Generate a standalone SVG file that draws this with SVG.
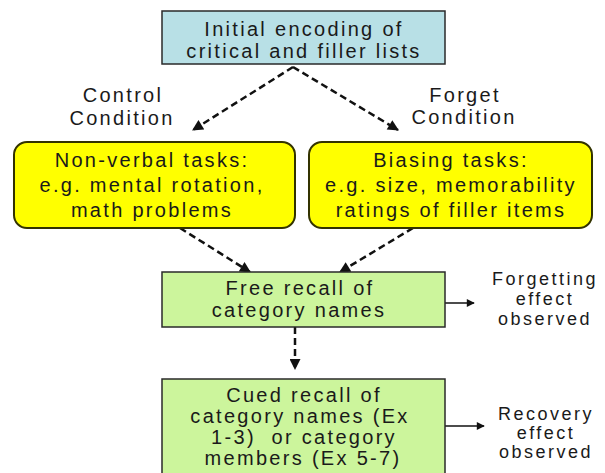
<svg xmlns="http://www.w3.org/2000/svg" width="605" height="473" viewBox="0 0 605 473">
<style>
  .t { font-family: "Liberation Sans", Arial, sans-serif; font-size: 20px; letter-spacing: 2.3px; fill: #1a1a1a; text-anchor: middle; white-space: pre; }
  .s { font-family: "Liberation Sans", Arial, sans-serif; font-size: 18px; letter-spacing: 2.5px; fill: #1a1a1a; text-anchor: middle; }
  .blue { fill: #b8e0e6; stroke: #2a2a2a; stroke-width: 1.5; }
  .yellow { fill: #ffff00; stroke: #333300; stroke-width: 2; }
  .green { fill: #ccf59c; stroke: #2a2a2a; stroke-width: 1.5; }
  .dash { fill: none; stroke: #111; stroke-width: 2.5; stroke-dasharray: 7 4; marker-end: url(#ah); }
  .solid { fill: none; stroke: #111; stroke-width: 1.5; marker-end: url(#ah2); }
</style>
<defs>
  <marker id="ah" viewBox="0 0 10 10" refX="9" refY="5" markerWidth="12" markerHeight="11" markerUnits="userSpaceOnUse" orient="auto">
    <path d="M0,0 L10,5 L0,10 z" fill="#111"/>
  </marker>
  <marker id="ah2" viewBox="0 0 10 10" refX="9" refY="5" markerWidth="14" markerHeight="8" markerUnits="userSpaceOnUse" orient="auto">
    <path d="M0,0 L10,5 L0,10 z" fill="#111"/>
  </marker>
</defs>
<rect width="605" height="473" fill="#ffffff"/>

<g id="connectors">
  <line class="dash" x1="293" y1="67" x2="193" y2="130"/>
  <line class="dash" x1="293" y1="67" x2="398" y2="130"/>
  <line class="dash" x1="180" y1="228" x2="250" y2="272"/>
  <line class="dash" x1="413" y1="228" x2="340" y2="272"/>
  <line class="dash" x1="295" y1="327" x2="295" y2="369"/>
  <line class="solid" x1="412" y1="303" x2="474" y2="303"/>
  <line class="solid" x1="413" y1="426" x2="484" y2="426"/>
</g>

<g id="initial">
  <rect class="blue" x="162" y="11" width="283" height="53"/>
  <text class="t" x="304" y="36">Initial encoding of</text>
  <text class="t" x="304" y="58">critical and filler lists</text>
</g>

<g id="control-label">
  <text class="t" x="123" y="102">Control</text>
  <text class="t" x="122" y="125">Condition</text>
</g>

<g id="forget-label">
  <text class="t" x="465" y="102">Forget</text>
  <text class="t" x="464" y="124">Condition</text>
</g>

<g id="nonverbal">
  <rect class="yellow" x="14" y="142" width="281" height="86" rx="13" ry="13"/>
  <text class="t" x="152" y="167">Non-verbal tasks:</text>
  <text class="t" x="152" y="192">e.g. mental rotation,</text>
  <text class="t" x="152" y="217">math problems</text>
</g>

<g id="biasing">
  <rect class="yellow" x="309" y="142" width="283" height="86" rx="13" ry="13"/>
  <text class="t" x="451" y="167">Biasing tasks:</text>
  <text class="t" x="451" y="192">e.g. size, memorability</text>
  <text class="t" x="451" y="217">ratings of filler items</text>
</g>

<g id="free-recall">
  <rect class="green" x="162" y="272" width="283" height="55"/>
  <text class="t" x="300" y="295">Free recall of</text>
  <text class="t" x="299" y="317">category names</text>
</g>

<g id="forgetting">
  <text class="s" x="545" y="285">Forgetting</text>
  <text class="s" x="545" y="305">effect</text>
  <text class="s" x="545" y="325">observed</text>
</g>

<g id="cued-recall">
  <rect class="green" x="162" y="379" width="283" height="100"/>
  <text class="t" x="304" y="402">Cued recall of</text>
  <text class="t" x="300" y="423">category names (Ex</text>
  <text class="t" x="304" y="444">1-3)  or category</text>
  <text class="t" x="303" y="465">members (Ex 5-7)</text>
</g>

<g id="recovery">
  <text class="s" x="546" y="420">Recovery</text>
  <text class="s" x="546" y="439">effect</text>
  <text class="s" x="546" y="458">observed</text>
</g>
</svg>
